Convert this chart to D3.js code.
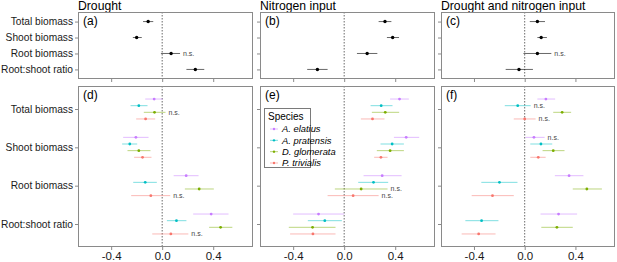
<!DOCTYPE html>
<html>
<head>
<meta charset="utf-8">
<script src="https://cdn.jsdelivr.net/npm/d3@7"></script>
<style>
  body { margin: 0; background: #fff; }
  svg text { font-family: "Liberation Sans", Arial, sans-serif; }
</style>
</head>
<body>
<svg id="chart" width="617" height="262"></svg>
<script>
// traits, top to bottom
const traits = ["Total biomass", "Shoot biomass", "Root biomass", "Root:shoot ratio"];
const species = ["A. elatius", "A. pratensis", "D. glomerata", "P. trivialis"];
const speciesColors = ["#C77CFF", "#00BFC4", "#7CAE00", "#F8766D"];
const titles = ["Drought", "Nitrogen input", "Drought and nitrogen input"];
const topLetters = ["(a)", "(b)", "(c)"];
const bottomLetters = ["(d)", "(e)", "(f)"];
const xTicks = [-0.4, 0.0, 0.4];

// community level effects: [estimate, lower, upper, significant]
const droughtAll = [[-0.11, -0.15, -0.07, 1], [-0.20, -0.23, -0.16, 1], [0.07, -0.01, 0.14, 0], [0.26, 0.19, 0.33, 1]];
const nitrogenAll = [[0.32, 0.27, 0.37, 1], [0.38, 0.335, 0.43, 1], [0.18, 0.10, 0.26, 1], [-0.21, -0.29, -0.13, 1]];
const bothAll = [[0.10, 0.04, 0.16, 1], [0.13, 0.10, 0.175, 1], [0.10, -0.01, 0.21, 0], [-0.045, -0.15, 0.065, 1]];

// species level effects, per trait, per species: [estimate, lower, upper, significant]
const droughtSp = [
  [[-0.063, -0.133, 0.005, 1], [-0.183, -0.248, -0.115, 1], [-0.06, -0.144, 0.026, 0], [-0.13, -0.204, -0.055, 1]],
  [[-0.206, -0.306, -0.107, 1], [-0.254, -0.314, -0.196, 1], [-0.183, -0.272, -0.092, 1], [-0.154, -0.22, -0.084, 1]],
  [[0.188, 0.09, 0.285, 1], [-0.133, -0.227, -0.042, 1], [0.29, 0.178, 0.405, 1], [-0.089, -0.243, 0.063, 0]],
  [[0.384, 0.243, 0.52, 1], [0.112, 0.037, 0.19, 1], [0.458, 0.368, 0.55, 1], [0.068, -0.078, 0.205, 0]]
];
const nitrogenSp = [
  [[0.434, 0.36, 0.507, 1], [0.29, 0.207, 0.379, 1], [0.322, 0.217, 0.431, 1], [0.222, 0.131, 0.316, 1]],
  [[0.486, 0.39, 0.588, 1], [0.376, 0.285, 0.468, 1], [0.36, 0.256, 0.468, 1], [0.288, 0.235, 0.34, 1]],
  [[0.298, 0.152, 0.45, 1], [0.23, 0.11, 0.345, 1], [0.133, -0.073, 0.34, 0], [0.07, -0.13, 0.27, 0]],
  [[-0.201, -0.4, 0.0, 1], [-0.152, -0.285, -0.018, 1], [-0.248, -0.434, -0.068, 1], [-0.245, -0.424, -0.068, 1]]
];
const bothSp = [
  [[0.167, 0.10, 0.24, 1], [-0.055, -0.157, 0.047, 0], [0.295, 0.225, 0.366, 1], [0.0, -0.086, 0.086, 0]],
  [[0.073, 0.005, 0.157, 0], [0.128, 0.044, 0.217, 1], [0.225, 0.141, 0.314, 1], [0.107, 0.044, 0.165, 1]],
  [[0.35, 0.238, 0.463, 1], [-0.199, -0.342, -0.057, 1], [0.49, 0.379, 0.609, 1], [-0.254, -0.418, -0.086, 1]],
  [[0.267, 0.125, 0.413, 1], [-0.34, -0.468, -0.207, 1], [0.254, 0.131, 0.379, 1], [-0.363, -0.497, -0.23, 1]]
];

const allData = [droughtAll, nitrogenAll, bothAll];
const spData = [droughtSp, nitrogenSp, bothSp];

const svg = d3.select("#chart");
const cols = [[78, 253], [260, 435], [441, 615]];
const topY = [12, 79];
const botY = [86, 247];
const borderCol = "#8a8a8a";

const yTop = d3.scalePoint().domain(traits).range(topY).padding(0.6);
const yBot = d3.scalePoint().domain(traits).range(botY).padding(0.6);
// species dodge inside each trait row
const dodge = d3.scalePoint().domain(species).range([-1, 1]).padding(0);
const dodgeWidth = yBot.step() * 0.26;

function zeroLine(g, x, y0, y1) {
  g.append("line")
    .attr("x1", x(0)).attr("x2", x(0))
    .attr("y1", y0).attr("y2", y1)
    .attr("stroke", "#444").attr("stroke-width", 0.8)
    .attr("stroke-dasharray", "1.5,1.5");
}

function frame(g, x0, x1, y0, y1) {
  g.append("rect")
    .attr("x", x0 + 0.5).attr("y", y0 + 0.5)
    .attr("width", x1 - x0 - 1).attr("height", y1 - y0 - 1)
    .attr("fill", "none").attr("stroke", borderCol).attr("stroke-width", 1);
}

function yAxis(g, y, x0, withLabels) {
  const ax = g.append("g").attr("transform", `translate(${x0},0)`)
    .call(d3.axisLeft(y).tickSize(3).tickPadding(2));
  ax.select(".domain").remove();
  ax.selectAll("line").attr("stroke", borderCol);
  ax.selectAll("text")
    .attr("fill", "#1a1a1a")
    .style("font-size", "10.2px")
    .text(withLabels ? (d => d) : "");
}

function xAxis(g, x, y0, withLabels) {
  const ax = g.append("g").attr("transform", `translate(0,${y0})`)
    .call(d3.axisBottom(x).tickValues(xTicks).tickFormat(d3.format(".1f")).tickSize(3).tickPadding(2));
  ax.select(".domain").remove();
  ax.selectAll("line").attr("stroke", borderCol);
  ax.selectAll("text")
    .attr("fill", "#1a1a1a")
    .style("font-size", "11.5px")
    .text(withLabels ? (d => d3.format(".1f")(d).replace("−", "-")) : "");
}

cols.forEach((c, i) => {
  const x = d3.scaleLinear().domain([-0.66, 0.712]).range(c);
  const g = svg.append("g");

  // title
  g.append("text").attr("x", c[0]).attr("y", 10)
    .style("font-size", "12.2px").attr("fill", "#000").text(titles[i]);

  // ---------- top panel ----------
  zeroLine(g, x, topY[0], topY[1]);
  yAxis(g, yTop, c[0], i === 0);
  xAxis(g, x, topY[1], false);

  const rows = allData[i].map((v, k) => ({ trait: traits[k], est: v[0], lo: v[1], hi: v[2], sig: v[3] }));
  g.selectAll(".errTop").data(rows).enter().append("line")
    .attr("x1", d => x(d.lo)).attr("x2", d => x(d.hi))
    .attr("y1", d => yTop(d.trait)).attr("y2", d => yTop(d.trait))
    .attr("stroke", "#000").attr("stroke-width", 0.8).attr("stroke-opacity", 0.75);
  g.selectAll(".ptTop").data(rows).enter().append("circle")
    .attr("cx", d => x(d.est)).attr("cy", d => yTop(d.trait)).attr("r", 1.7)
    .attr("fill", "#000");
  g.selectAll(".nsTop").data(rows.filter(d => !d.sig)).enter().append("text")
    .attr("x", d => x(d.hi) + 3).attr("y", d => yTop(d.trait)).attr("dy", "0.35em")
    .style("font-size", "7px").attr("fill", "#444").text("n.s.");
  frame(g, c[0], c[1], topY[0], topY[1]);
  g.append("text").attr("x", c[0] + 5).attr("y", topY[0] + 13)
    .style("font-size", "12px").attr("fill", "#000").text(topLetters[i]);

  // ---------- bottom panel ----------
  zeroLine(g, x, botY[0], botY[1]);
  yAxis(g, yBot, c[0], i === 0);
  xAxis(g, x, botY[1], true);

  const sp = [];
  spData[i].forEach((tr, k) => tr.forEach((v, s) => sp.push({
    trait: traits[k], sp: species[s], color: speciesColors[s],
    est: v[0], lo: v[1], hi: v[2], sig: v[3]
  })));
  const yy = d => yBot(d.trait) + dodge(d.sp) * dodgeWidth;
  g.selectAll(".errBot").data(sp).enter().append("line")
    .attr("x1", d => x(d.lo)).attr("x2", d => x(d.hi))
    .attr("y1", yy).attr("y2", yy)
    .attr("stroke", d => d.color).attr("stroke-width", 1).attr("stroke-opacity", 0.5);
  g.selectAll(".ptBot").data(sp).enter().append("circle")
    .attr("cx", d => x(d.est)).attr("cy", yy).attr("r", 1.4)
    .attr("fill", d => d.color);
  g.selectAll(".nsBot").data(sp.filter(d => !d.sig)).enter().append("text")
    .attr("x", d => x(d.hi) + 3).attr("y", yy).attr("dy", "0.35em")
    .style("font-size", "7px").attr("fill", "#444").text("n.s.");
  frame(g, c[0], c[1], botY[0], botY[1]);
  g.append("text").attr("x", c[0] + 5).attr("y", botY[0] + 13)
    .style("font-size", "12px").attr("fill", "#000").text(bottomLetters[i]);
});

// legend inside panel (e)
const lg = svg.append("g").attr("transform", "translate(264,108)");
lg.append("rect").attr("x", 0.5).attr("y", 0.5).attr("width", 46).attr("height", 59)
  .attr("fill", "#fff").attr("stroke", "#7a7a7a").attr("stroke-width", 1);
lg.append("text").attr("x", 4).attr("y", 12).style("font-size", "10px").attr("fill", "#000").text("Species");
const ly = d3.scalePoint().domain(species).range([21, 55]);
species.forEach((s, k) => {
  lg.append("line").attr("x1", 6).attr("x2", 14).attr("y1", ly(s)).attr("y2", ly(s))
    .attr("stroke", speciesColors[k]).attr("stroke-opacity", 0.5);
  lg.append("circle").attr("cx", 10).attr("cy", ly(s)).attr("r", 1.2).attr("fill", speciesColors[k]);
  lg.append("text").attr("x", 18).attr("y", ly(s)).attr("dy", "0.35em")
    .style("font-size", "9.4px").style("font-style", "italic").attr("fill", "#000").text(s);
});
</script>
</body>
</html>
